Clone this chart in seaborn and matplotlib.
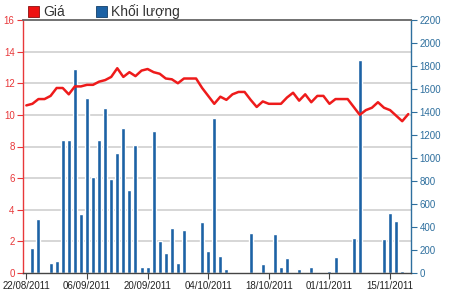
import matplotlib
matplotlib.use("Agg")
import matplotlib.pyplot as plt
from matplotlib.patches import Patch
from matplotlib.ticker import MultipleLocator
import seaborn as sns
import numpy as np

# ---- data ----
day_index = list(range(64))
price = [10.6, 10.7, 11.0, 11.0, 11.2, 11.7, 11.7, 11.3, 11.8, 11.8,
         11.9, 11.9, 12.1, 12.2, 12.4, 12.95, 12.4, 12.7, 12.45, 12.8,
         12.9, 12.7, 12.6, 12.3, 12.25, 12.0, 12.3, 12.3, 12.3, 11.7,
         11.2, 10.7, 11.15, 10.95, 11.3, 11.45, 11.45, 10.95, 10.5, 10.85,
         10.7, 10.7, 10.7, 11.1, 11.4, 10.9, 11.3, 10.8, 11.2, 11.2,
         10.7, 11.0, 11.0, 11.0, 10.5, 10.0, 10.3, 10.45, 10.8, 10.45,
         10.3, 9.95, 9.6, 10.05]
volume = [0, 217, 473, 0, 87, 101, 1154, 1154, 1774, 516,
          1519, 832, 1154, 1432, 818, 1044, 1264, 725, 1113, 49,
          49, 1238, 278, 174, 391, 87, 374, 0, 0, 446,
          188, 1351, 145, 32, 0, 0, 0, 348, 0, 75,
          10, 342, 49, 128, 0, 32, 0, 49, 10, 0,
          15, 139, 0, 0, 304, 1855, 0, 0, 0, 296,
          525, 455, 17, 10]
tick_positions = [0, 10, 20, 30, 40, 50, 60]
tick_labels = ["22/08/2011", "06/09/2011", "20/09/2011", "04/10/2011",
               "18/10/2011", "01/11/2011", "15/11/2011"]
legend_labels = ["Giá", "Khối lượng"]

# ---- style ----
sns.set_style("white")
plt.rcParams["font.family"] = ["Liberation Sans", "DejaVu Sans"]

RED = "#ee1b1b"
BLUE = "#1c62a5"
RED_TXT = "#e8383a"
BLUE_TXT = "#2e6f9e"

fig = plt.figure(figsize=(4.5, 2.91), dpi=100)
ax = fig.add_axes([23 / 450, 18 / 291, (411 - 23) / 450, (273 - 20) / 291])
ax2 = ax.twinx()

# bars on right axis
sns.barplot(x=day_index, y=volume, native_scale=True, color=BLUE,
            saturation=1, width=0.66, ax=ax2, errorbar=None)
# line on left axis
sns.lineplot(x=day_index, y=price, ax=ax, color=RED, linewidth=1.8,
             legend=False)

ax.set_zorder(ax2.get_zorder() + 1)
ax.patch.set_visible(False)

ax.set_ylim(0, 16)
ax.set_yticks(range(0, 17, 2))
ax2.set_ylim(0, 2200)
ax2.set_yticks(range(0, 2201, 200))
# gridlines matching left-axis ticks, drawn behind bars
ax2.yaxis.set_minor_locator(MultipleLocator(275))
ax2.set_axisbelow(True)
ax2.grid(which="minor", axis="y", color="#cfcfcf", linewidth=1.2)
ax2.grid(which="major", visible=False)
ax.grid(False)

ax.set_xlim(-0.55, 63.45)
ax.set_xticks(tick_positions)
ax.set_xticklabels(tick_labels)
ax.set_xlabel("")
ax.set_ylabel("")
ax2.set_xlabel("")
ax2.set_ylabel("")

# spines
for a in (ax, ax2):
    for s in a.spines.values():
        s.set_visible(False)
ax.spines["left"].set_visible(True)
ax.spines["left"].set_color(RED_TXT)
ax.spines["left"].set_linewidth(1.0)
ax.spines["bottom"].set_visible(True)
ax.spines["bottom"].set_color("#444444")
ax.spines["bottom"].set_linewidth(1.0)
ax.spines["top"].set_visible(True)
ax.spines["top"].set_color("#666666")
ax.spines["top"].set_linewidth(1.3)
ax2.spines["right"].set_visible(True)
ax2.spines["right"].set_color(BLUE_TXT)
ax2.spines["right"].set_linewidth(1.0)

ax.tick_params(axis="y", colors=RED_TXT, labelsize=7, length=4, width=0.8,
               direction="out", pad=2, left=True)
ax.tick_params(axis="x", colors="#444444", labelcolor="#222222", labelsize=7,
               length=4, width=0.8, direction="out", pad=1.5, bottom=True)
ax2.tick_params(axis="y", which="major", colors=BLUE_TXT, labelsize=7,
                length=4, width=0.8, direction="out", pad=2, right=True)
ax2.tick_params(axis="y", which="minor", length=0)

handles = [Patch(facecolor="#ee1111", edgecolor="#8a1010", linewidth=0.6),
           Patch(facecolor=BLUE, edgecolor="#123f6a", linewidth=0.6)]
fig.legend(handles, legend_labels, loc="center left",
           bbox_to_anchor=(28 / 450, 1 - 12 / 291), ncol=2, frameon=False,
           fontsize=10, handlelength=0.8, handleheight=0.8,
           handletextpad=0.3, columnspacing=2.2, borderpad=0,
           borderaxespad=0, labelcolor="#333333")

fig.savefig("out.png", dpi=100)
